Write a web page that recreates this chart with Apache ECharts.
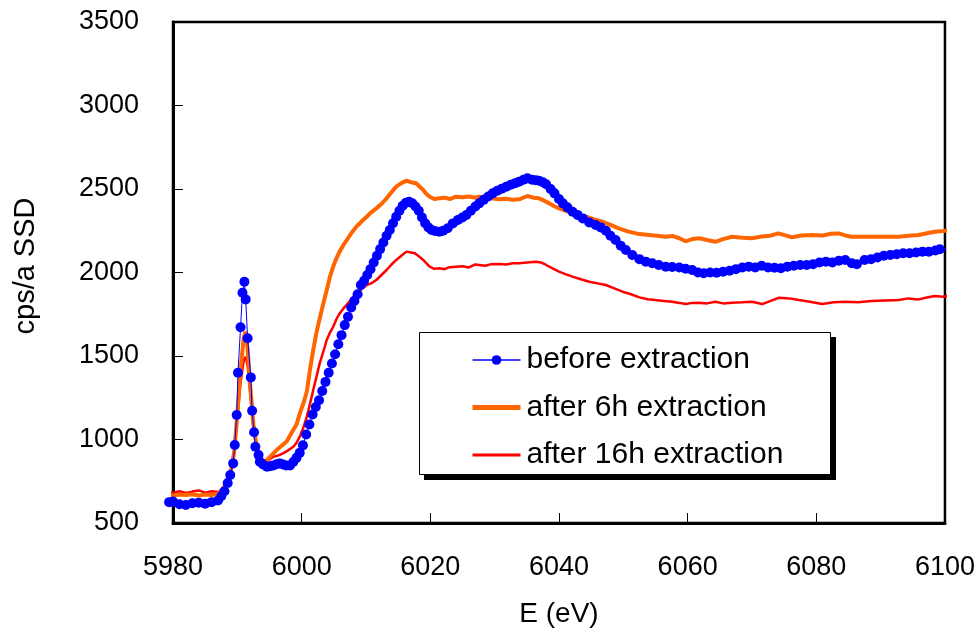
<!DOCTYPE html>
<html>
<head>
<meta charset="utf-8">
<script src="https://cdn.jsdelivr.net/npm/echarts@6/dist/echarts.min.js"></script>
<style>
html,body{margin:0;padding:0;background:#fff;}
#chart{width:978px;height:634px;}
</style>
</head>
<body>
<div id="chart"></div>
<script>
// ---- Data ----
var xTicks = [5980, 6000, 6020, 6040, 6060, 6080, 6100];
var yTicks = [500, 1000, 1500, 2000, 2500, 3000, 3500];
var seriesNames = ['before extraction', 'after 6h extraction', 'after 16h extraction'];

var beforeE = [5979.4,5980,5981,5982,5983,5984,5985,5986,5987,5987.5,5988,5988.5,5988.9,5989.35,5989.6,5989.9,5990.1,5990.5,5990.8,5991.1,5991.3,5991.6,5992.1,5992.3,5992.6,5992.8,5993.3,5993.5,5994,5994.6,5995.1,5995.6,5996.1,5996.6,5997.1,5997.6,5998.2,5998.7,5999.2,5999.7,6000.2,6000.7,6001.2,6001.7,6002.2,6002.7,6003.2,6003.7,6004.2,6004.7,6005.2,6005.7,6006.2,6006.7,6007.2,6007.7,6008.2,6008.7,6009.2,6009.7,6010.2,6010.7,6011.2,6011.7,6012.2,6012.7,6013.2,6013.7,6014.2,6014.7,6015.2,6015.7,6016.2,6016.7,6017.2,6017.7,6018.2,6018.7,6019.2,6019.7,6020.2,6020.7,6021.4,6022,6022.7,6023.5,6024.3,6025,6025.6,6026.3,6027,6027.6,6028.3,6029,6029.7,6030.4,6031.1,6031.8,6032.5,6033.2,6033.8,6034.5,6035.1,6035.8,6036.4,6036.9,6037.5,6038,6038.7,6039.3,6040,6040.6,6041.3,6042.1,6042.9,6043.7,6044.7,6045.7,6046.5,6047.3,6048,6048.8,6049.6,6050.4,6051.4,6052.5,6053.5,6054.5,6055.5,6056.6,6057.6,6058.7,6059.7,6060.7,6061.6,6062.5,6063.5,6064.5,6065.5,6066.5,6067.5,6068.5,6069.5,6070.5,6071.5,6072.5,6073.5,6074.5,6075.5,6076.5,6077.5,6078.5,6079.5,6080.5,6081.5,6082.5,6083.5,6084.5,6085.5,6086.3,6087.5,6088.5,6089.5,6090.5,6091.5,6092.5,6093.5,6094.5,6095.5,6096.5,6097.5,6098.5,6099.2,6101];
var beforeV = [625,628,612,608,618,622,615,625,635,660,690,740,787,857,967,1147,1400,1672,1879,1945,1839,1606,1372,1172,1043,957,907,867,850,837,840,845,852,857,850,845,845,865,890,920,965,1030,1090,1150,1195,1235,1290,1345,1400,1455,1510,1570,1625,1685,1735,1790,1830,1870,1925,1950,1985,2020,2060,2100,2140,2180,2220,2255,2295,2334,2370,2400,2418,2424,2415,2395,2370,2330,2295,2270,2255,2248,2244,2250,2265,2294,2315,2330,2344,2370,2395,2414,2435,2455,2474,2490,2502,2514,2525,2535,2544,2556,2564,2555,2552,2550,2540,2528,2500,2474,2440,2414,2390,2364,2345,2324,2300,2284,2270,2250,2220,2195,2160,2135,2105,2080,2065,2055,2045,2035,2033,2030,2022,2015,2000,1995,2000,1998,2005,2010,2020,2030,2035,2030,2040,2030,2028,2025,2035,2040,2045,2045,2050,2060,2065,2060,2070,2075,2055,2050,2075,2080,2090,2100,2105,2110,2115,2115,2120,2125,2125,2132,2139,2147];

var after6E = [5979.4,5980,5981,5982,5983,5984,5985,5986,5987,5987.6,5988,5988.5,5989,5989.5,5990,5990.5,5991,5991.3,5991.6,5992,5992.5,5993,5993.5,5994,5994.6,5995.3,5996.1,5996.8,5997.7,5998.5,5999.2,5999.7,6000.3,6000.8,6001.3,6001.8,6002.3,6002.8,6003.4,6003.9,6004.4,6004.9,6005.4,6005.9,6006.5,6007.2,6007.8,6008.5,6009.3,6010.1,6010.8,6011.6,6012.4,6013.2,6013.9,6014.7,6015.5,6016.3,6017,6017.8,6018.4,6018.9,6019.4,6019.9,6020.6,6021.4,6022.2,6023,6024,6025,6026,6027,6027.6,6028.5,6029.5,6030.7,6031.7,6032.8,6033.8,6035.1,6036,6036.9,6037.7,6038.5,6039.2,6040,6041,6042.1,6043.2,6044.2,6045.5,6046.8,6048,6049.3,6050.8,6052.5,6054,6055.6,6056.6,6057.6,6058.7,6059.7,6060.7,6061.8,6063,6064.3,6065.5,6066.9,6068.5,6070,6071.5,6072.8,6074.1,6075.2,6076.2,6077.7,6079.3,6081,6082.3,6083.5,6084.5,6085.5,6087.3,6089.1,6091,6092.8,6094.3,6095.9,6097.2,6098.4,6099.7,6101];
var after6V = [668,665,670,668,672,665,670,668,675,698,720,760,810,920,1150,1420,1610,1646,1540,1320,1090,960,895,868,877,905,937,960,990,1045,1090,1155,1220,1286,1420,1536,1640,1725,1820,1895,1975,2035,2085,2125,2165,2205,2240,2274,2305,2334,2360,2384,2410,2444,2478,2514,2535,2550,2540,2534,2512,2494,2470,2454,2440,2444,2448,2440,2454,2450,2455,2448,2454,2450,2445,2438,2442,2436,2438,2458,2448,2444,2430,2414,2398,2384,2370,2354,2342,2334,2318,2304,2285,2264,2245,2230,2224,2219,2214,2219,2205,2187,2200,2205,2195,2184,2200,2214,2208,2205,2215,2220,2234,2222,2211,2222,2225,2222,2232,2234,2222,2214,2214,2214,2214,2214,2220,2225,2235,2244,2248,2254];

var after16E = [5979.4,5980,5981,5982,5983,5984,5985,5986,5987,5987.6,5988,5988.5,5989,5989.5,5990,5990.5,5991,5991.3,5991.6,5992,5992.5,5993,5993.5,5994,5994.6,5995.6,5996.4,5997.1,5997.9,5998.7,5999.2,5999.7,6000.3,6000.8,6001.3,6001.8,6002.3,6002.8,6003.4,6003.9,6004.4,6004.9,6005.4,6005.9,6006.5,6007.2,6007.8,6008.5,6009.3,6010.1,6010.8,6011.6,6012.4,6013.2,6013.9,6014.7,6015.5,6016.3,6017,6017.6,6018.3,6018.9,6019.4,6019.9,6020.6,6021.4,6022.2,6023,6024,6025,6026,6027,6027.6,6028.5,6029.5,6030.7,6031.8,6032.8,6033.8,6035,6036.4,6037.2,6038,6039,6040,6041,6042.1,6043.4,6044.7,6046,6047.3,6048.6,6049.9,6051.2,6052.5,6053.8,6055,6056.3,6057.6,6058.7,6059.7,6060.7,6061.7,6063,6064.3,6065.5,6066.9,6068.5,6070,6071.6,6072.9,6074.2,6075.8,6077.3,6079,6080.9,6082.7,6084.5,6086.5,6088.6,6090.7,6092.8,6094.3,6095.9,6097.2,6098.4,6099.7,6101];
var after16V = [678,682,690,680,688,695,682,690,685,700,725,765,820,930,1130,1340,1475,1495,1440,1280,1070,945,885,862,870,897,905,917,935,957,980,1017,1075,1137,1215,1296,1375,1456,1530,1596,1640,1675,1720,1755,1785,1815,1845,1875,1900,1925,1935,1955,1985,2015,2045,2075,2100,2125,2120,2115,2095,2075,2055,2035,2022,2025,2020,2032,2035,2038,2030,2048,2045,2040,2050,2051,2048,2055,2055,2060,2065,2060,2045,2025,2005,1990,1975,1960,1945,1935,1925,1905,1885,1870,1851,1840,1835,1830,1825,1818,1811,1818,1819,1815,1825,1815,1819,1822,1825,1811,1830,1849,1845,1835,1825,1811,1822,1825,1822,1829,1832,1835,1845,1839,1850,1859,1855,1865];

function pairs(E, V, hideLastSymbol) {
  var out = [];
  for (var i = 0; i < E.length; i++) {
    if (hideLastSymbol && i === E.length - 1) {
      out.push({ value: [E[i], V[i]], symbol: 'none' });
    } else {
      out.push([E[i], V[i]]);
    }
  }
  return out;
}

var FONT = 'Liberation Sans, Arial, sans-serif';
var chart = echarts.init(document.getElementById('chart'), null, { renderer: 'canvas' });

var LEG_X = 419, LEG_Y = 332, LEG_W = 412, LEG_H = 143;

chart.setOption({
  animation: false,
  backgroundColor: '#ffffff',
  grid: {
    left: 173, top: 22, width: 774, height: 501,
    show: true, borderColor: '#000', borderWidth: 2.5, backgroundColor: 'transparent'
  },
  xAxis: {
    type: 'value',
    min: xTicks[0], max: xTicks[xTicks.length - 1], interval: 20,
    axisLine: { show: true, onZero: false, lineStyle: { color: '#000', width: 3 } },
    axisTick: { show: true, inside: true, length: 10, lineStyle: { color: '#000', width: 1 } },
    axisLabel: { color: '#000', fontSize: 27, fontFamily: FONT, margin: 31,
      formatter: function (v) { return String(v); } },
    splitLine: { show: false }
  },
  yAxis: {
    type: 'value',
    min: yTicks[0], max: yTicks[yTicks.length - 1], interval: 500,
    axisLine: { show: true, onZero: false, lineStyle: { color: '#000', width: 3 } },
    axisTick: { show: true, inside: true, length: 10, lineStyle: { color: '#000', width: 1 } },
    axisLabel: { color: '#000', fontSize: 27, fontFamily: FONT, margin: 34,
      formatter: function (v) { return String(v); } },
    splitLine: { show: false }
  },
  legend: {
    data: [
      { name: seriesNames[0], lineStyle: { width: 1.5 } },
      { name: seriesNames[1], lineStyle: { width: 5 }, itemStyle: { opacity: 0, color: 'rgba(0,0,0,0)', borderWidth: 0 } },
      { name: seriesNames[2], lineStyle: { width: 3 }, itemStyle: { opacity: 0, color: 'rgba(0,0,0,0)', borderWidth: 0 } }
    ],
    orient: 'vertical',
    left: LEG_X, top: LEG_Y,
    padding: [11, 46, 3, 51],
    itemGap: 13.5,
    itemWidth: 48, itemHeight: 12,
    selectedMode: false,
    z: 20,
    textStyle: { color: '#000', fontSize: 30, fontFamily: FONT, lineHeight: 34, padding: [0, 0, 0, 1] }
  },
  graphic: [
    {
      type: 'rect', z: 15, silent: true,
      shape: { x: LEG_X + 5, y: LEG_Y + 5, width: LEG_W, height: LEG_H },
      style: { fill: '#000' }
    },
    {
      type: 'rect', z: 16, silent: true,
      shape: { x: LEG_X + 0.5, y: LEG_Y + 0.5, width: LEG_W - 1, height: LEG_H - 1 },
      style: { fill: '#fff', stroke: '#000', lineWidth: 1 }
    },
    {
      type: 'text', x: 26, y: 266, rotation: Math.PI / 2,
      style: { text: 'cps/a SSD', fill: '#000', font: '29px ' + FONT, textAlign: 'center', textVerticalAlign: 'middle' }
    },
    {
      type: 'text', x: 559, y: 614,
      style: { text: 'E (eV)', fill: '#000', font: '28px ' + FONT, textAlign: 'center', textVerticalAlign: 'middle' }
    }
  ],
  series: [
    {
      name: seriesNames[0], type: 'line', z: 4, clip: false,
      data: pairs(beforeE, beforeV, true),
      symbol: 'circle', symbolSize: 10, showAllSymbol: true,
      lineStyle: { color: '#0000ff', width: 1 },
      itemStyle: { color: '#0000ff', borderWidth: 0 },
      emphasis: { disabled: true }
    },
    {
      name: seriesNames[1], type: 'line', z: 3, clip: false,
      data: pairs(after6E, after6V, false),
      symbol: 'none', showSymbol: false,
      lineStyle: { color: '#ff6600', width: 4 },
      itemStyle: { color: '#ff6600' },
      emphasis: { disabled: true }
    },
    {
      name: seriesNames[2], type: 'line', z: 2, clip: false,
      data: pairs(after16E, after16V, false),
      symbol: 'none', showSymbol: false,
      lineStyle: { color: '#ff0000', width: 2.5 },
      itemStyle: { color: '#ff0000' },
      emphasis: { disabled: true }
    }
  ]
});
</script>
</body>
</html>
